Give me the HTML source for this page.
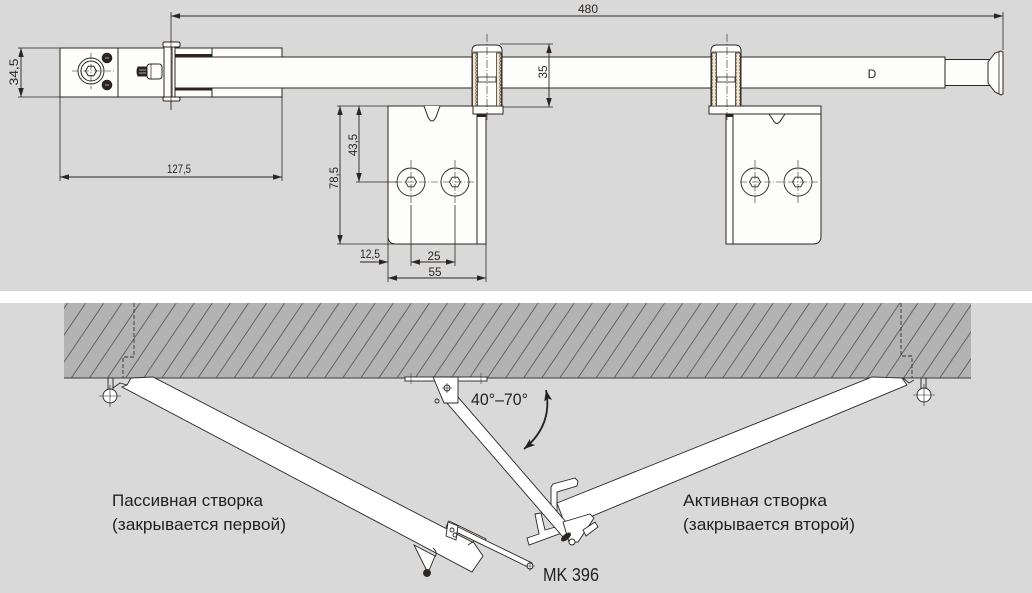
<!DOCTYPE html>
<html><head><meta charset="utf-8"><style>
html,body{margin:0;padding:0;background:#d9d9d9;}
svg{display:block;}
</style></head><body>
<svg width="1032" height="593" viewBox="0 0 1032 593" xmlns="http://www.w3.org/2000/svg">
<defs>
<marker id="ar" markerUnits="userSpaceOnUse" markerWidth="10" markerHeight="6" refX="9" refY="2.75" orient="auto-start-reverse"><path d="M0,0 L9,2.75 L0,5.5 z" fill="#2b2521"/></marker>
<marker id="ab" markerUnits="userSpaceOnUse" markerWidth="12" markerHeight="9" refX="11" refY="4" orient="auto-start-reverse"><path d="M0,0 L11,4 L0,8 L2.5,4 z" fill="#222"/></marker>
<pattern id="hatch" width="15" height="20" patternUnits="userSpaceOnUse" patternTransform="rotate(34)"><line x1="0.5" y1="0" x2="0.5" y2="20" stroke="#505050" stroke-width="0.8"/></pattern>
<pattern id="dots" width="6" height="3.4" patternUnits="userSpaceOnUse"><rect width="6" height="3.4" fill="#efe6d2"/><circle cx="3" cy="1.7" r="1.3" fill="none" stroke="#5a4630" stroke-width="0.7"/></pattern>
</defs>
<rect width="1032" height="593" fill="#d9d9d9"/>
<rect y="291" width="1032" height="12" fill="#ffffff"/>

<!-- ================= TOP DRAWING ================= -->
<g stroke="#2b2521" stroke-width="1" fill="none">
  <!-- dimension 480 -->
  <line x1="171" y1="16" x2="1003" y2="16" stroke-width="0.9" marker-start="url(#ar)" marker-end="url(#ar)"/>
  <line x1="171" y1="12" x2="171" y2="110" stroke-width="0.8"/>
  <line x1="1003" y1="12" x2="1003" y2="50" stroke-width="0.8"/>

  <!-- main bar -->
  <rect x="172" y="48" width="110" height="49" fill="#fdfdfb"/>
  <rect x="172" y="57" width="773" height="31" fill="#fdfdfb"/>
  <line x1="212" y1="48" x2="212" y2="57"/>
  <line x1="212" y1="88" x2="212" y2="97"/>
  <rect x="172" y="54" width="40" height="3" fill="#2b2521" stroke="none"/>
  <rect x="172" y="88" width="40" height="2.5" fill="#2b2521" stroke="none"/>
  <rect x="945" y="59.5" width="45" height="26" fill="#fdfdfb"/>
  <path d="M988,62 L995,53 L1001,51 L1003,52 L1003,94 L1001,95 L995,92 L988,83 Z" fill="#fdfdfb"/>
  <line x1="999" y1="52" x2="999" y2="94" stroke-width="0.8"/>

  <!-- left block -->
  <rect x="60" y="48" width="110" height="49" fill="#fdfdfb"/>
  <line x1="118" y1="48" x2="118" y2="97"/>
  <circle cx="91" cy="71" r="13" fill="#fdfdfb"/>
  <circle cx="91" cy="71" r="10"/>
  <polygon points="96.5,71 93.75,75.8 88.25,75.8 85.5,71 88.25,66.2 93.75,66.2"/>
  <line x1="72" y1="71" x2="116" y2="71" stroke-width="0.6" stroke-dasharray="6,2,1,2"/>
  <line x1="91" y1="53" x2="91" y2="89" stroke-width="0.6" stroke-dasharray="6,2,1,2"/>
  <circle cx="107" cy="58" r="4.8" fill="#2b2521"/>
  <circle cx="107" cy="85" r="4.8" fill="#2b2521"/>
  <line x1="105" y1="58" x2="109" y2="58" stroke="#fff" stroke-width="0.6"/>
  <line x1="105" y1="85" x2="109" y2="85" stroke="#fff" stroke-width="0.6"/>
  <!-- bolt in second box -->
  <rect x="147" y="64" width="15" height="15" rx="3" fill="#fdfdfb"/>
  <line x1="151" y1="64" x2="151" y2="79" stroke-width="0.7"/>
  <path d="M138,67 L147,67 L147,76 L138,76 Q136,71.5 138,67 Z" fill="#2b2521"/>
  <line x1="139" y1="70" x2="146" y2="70" stroke="#fff" stroke-width="0.6"/>
  <line x1="139" y1="73" x2="146" y2="73" stroke="#fff" stroke-width="0.6"/>

  <!-- left bracket plate and nuts -->
  <rect x="164" y="47" width="8" height="50" fill="#fdfdfb"/>
  <rect x="172" y="47" width="3" height="50" fill="#fdfdfb"/>
  <rect x="163" y="42" width="17" height="5" rx="1.5" fill="#fdfdfb"/>
  <rect x="163" y="97" width="17" height="4" rx="1.5" fill="#fdfdfb"/>
  <line x1="171" y1="40" x2="171" y2="110" stroke-width="0.6"/>

  <!-- text D -->
  <text x="872" y="78" font-family="Liberation Sans, sans-serif" font-size="12" fill="#2b2521" stroke="none" text-anchor="middle">D</text>

  <!-- dimension 35 -->
  <line x1="500" y1="44" x2="553" y2="44" stroke-width="0.8"/>
  <line x1="503" y1="107" x2="553" y2="107" stroke-width="0.8"/>
  <line x1="549" y1="44" x2="549" y2="107" stroke-width="0.9" marker-start="url(#ar)" marker-end="url(#ar)"/>

  <!-- bracket 1 -->
  <path d="M388,106 L486,106 L486,244 L396,244 Q388,244 388,236 Z" fill="#fdfdfb"/>
  <line x1="477" y1="114" x2="477" y2="244"/>
  <path d="M424,106 L428,117 Q432,125 436,117 L440,106" fill="#fdfdfb"/>
  <rect x="473" y="106" width="30" height="8" fill="#fdfdfb"/>
  <rect x="477" y="114" width="9" height="3" fill="#2b2521" stroke="none"/>

  <!-- bracket 2 -->
  <path d="M726,114 L821,114 L821,236 Q821,244 813,244 L726,244 Z" fill="#fdfdfb"/>
  <line x1="733" y1="114" x2="733" y2="244"/>
  <rect x="726" y="114" width="7" height="3" fill="#2b2521" stroke="none"/>
  <path d="M769,114 L773,120 Q777,127 781,120 L785,114" fill="#fdfdfb"/>
  <rect x="709" y="106" width="112" height="8" fill="#fdfdfb"/>

  <!-- pins -->
  <g>
    <path d="M472,106 L472,51 Q472,45 478,45 L496,45 Q502,45 502,51 L502,106 Z" fill="#fdfdfb"/>
    <line x1="473" y1="52" x2="501" y2="52" stroke-width="0.8"/>
    <rect x="472.5" y="53" width="5" height="53" fill="url(#dots)" stroke-width="0.7"/>
    <rect x="496.5" y="53" width="5" height="53" fill="url(#dots)" stroke-width="0.7"/>
    <rect x="478" y="77" width="18" height="5" fill="#fdfdfb" stroke-width="0.8"/>
    <line x1="487" y1="34" x2="487" y2="120" stroke-width="0.6" stroke-dasharray="8,2,1,2"/>
  </g>
  <g>
    <path d="M711,106 L711,51 Q711,45 717,45 L735,45 Q741,45 741,51 L741,106 Z" fill="#fdfdfb"/>
    <line x1="712" y1="52" x2="740" y2="52" stroke-width="0.8"/>
    <rect x="711.5" y="53" width="5" height="53" fill="url(#dots)" stroke-width="0.7"/>
    <rect x="735.5" y="53" width="5" height="53" fill="url(#dots)" stroke-width="0.7"/>
    <rect x="717" y="77" width="18" height="5" fill="#fdfdfb" stroke-width="0.8"/>
    <line x1="727" y1="34" x2="727" y2="120" stroke-width="0.6" stroke-dasharray="8,2,1,2"/>
  </g>

  <!-- screws -->
  <g stroke-width="0.9">
    <circle cx="411" cy="182" r="14" fill="#fdfdfb"/>
    <polygon points="416.5,182 413.75,186.8 408.25,186.8 405.5,182 408.25,177.2 413.75,177.2"/>
    <circle cx="455" cy="182" r="14" fill="#fdfdfb"/>
    <polygon points="460.5,182 457.75,186.8 452.25,186.8 449.5,182 452.25,177.2 457.75,177.2"/>
    <circle cx="755" cy="182" r="14" fill="#fdfdfb"/>
    <polygon points="760.5,182 757.75,186.8 752.25,186.8 749.5,182 752.25,177.2 757.75,177.2"/>
    <circle cx="798" cy="182" r="14" fill="#fdfdfb"/>
    <polygon points="803.5,182 800.75,186.8 795.25,186.8 792.5,182 795.25,177.2 800.75,177.2"/>
  </g>
  <g stroke-width="0.6" stroke-dasharray="7,2,1,2">
    <line x1="395" y1="182" x2="475" y2="182"/>
    <line x1="740" y1="182" x2="818" y2="182"/>
    <line x1="411" y1="160" x2="411" y2="205"/>
    <line x1="455" y1="160" x2="455" y2="205"/>
    <line x1="755" y1="160" x2="755" y2="205"/>
    <line x1="798" y1="160" x2="798" y2="205"/>
  </g>

  <!-- dimension 34,5 -->
  <line x1="18" y1="48" x2="60" y2="48" stroke-width="0.8"/>
  <line x1="18" y1="97" x2="60" y2="97" stroke-width="0.8"/>
  <line x1="21" y1="48" x2="21" y2="97" stroke-width="0.9" marker-start="url(#ar)" marker-end="url(#ar)"/>

  <!-- dimension 127,5 -->
  <line x1="60" y1="97" x2="60" y2="181" stroke-width="0.8"/>
  <line x1="282" y1="97" x2="282" y2="181" stroke-width="0.8"/>
  <line x1="60" y1="177" x2="282" y2="177" stroke-width="0.9" marker-start="url(#ar)" marker-end="url(#ar)"/>

  <!-- bracket dims -->
  <line x1="337" y1="106" x2="388" y2="106" stroke-width="0.8"/>
  <line x1="337" y1="244" x2="396" y2="244" stroke-width="0.8"/>
  <line x1="356" y1="182" x2="397" y2="182" stroke-width="0.8"/>
  <line x1="340" y1="106" x2="340" y2="244" stroke-width="0.9" marker-start="url(#ar)" marker-end="url(#ar)"/>
  <line x1="359" y1="106" x2="359" y2="182" stroke-width="0.9" marker-start="url(#ar)" marker-end="url(#ar)"/>
  <line x1="388" y1="236" x2="388" y2="282" stroke-width="0.8"/>
  <line x1="486" y1="244" x2="486" y2="282" stroke-width="0.8"/>
  <line x1="411" y1="205" x2="411" y2="266" stroke-width="0.8"/>
  <line x1="455" y1="205" x2="455" y2="266" stroke-width="0.8"/>
  <line x1="360" y1="262" x2="388" y2="262" stroke-width="0.9" marker-end="url(#ar)"/>
  <line x1="411" y1="262" x2="455" y2="262" stroke-width="0.9" marker-start="url(#ar)" marker-end="url(#ar)"/>
  <line x1="388" y1="278" x2="486" y2="278" stroke-width="0.9" marker-start="url(#ar)" marker-end="url(#ar)"/>
</g>

<g font-family="Liberation Sans, sans-serif" font-size="11.5" fill="#2b2521" text-anchor="middle">
  <text x="588" y="13" textLength="20" lengthAdjust="spacingAndGlyphs">480</text>
  <text x="179" y="173" textLength="24" lengthAdjust="spacingAndGlyphs">127,5</text>
  <text x="370" y="258" textLength="20" lengthAdjust="spacingAndGlyphs">12,5</text>
  <text x="434" y="260" textLength="13" lengthAdjust="spacingAndGlyphs">25</text>
  <text x="435" y="276" textLength="13" lengthAdjust="spacingAndGlyphs">55</text>
  <text transform="translate(18,72) rotate(-90)" x="0" y="0" textLength="27" lengthAdjust="spacingAndGlyphs">34,5</text>
  <text transform="translate(357,145) rotate(-90)" x="0" y="0" textLength="22" lengthAdjust="spacingAndGlyphs">43,5</text>
  <text transform="translate(338,178) rotate(-90)" x="0" y="0" textLength="22" lengthAdjust="spacingAndGlyphs">78,5</text>
  <text transform="translate(547,72) rotate(-90)" x="0" y="0" textLength="13" lengthAdjust="spacingAndGlyphs">35</text>
</g>

<!-- ================= BOTTOM DRAWING ================= -->
<rect x="64" y="303" width="907" height="75" fill="#b3b3b3"/>
<rect x="64" y="303" width="907" height="75" fill="url(#hatch)"/>
<line x1="64" y1="378" x2="971" y2="378" stroke="#3a3a3a" stroke-width="1"/>
<g stroke="#333" stroke-width="0.9" fill="none" stroke-dasharray="4,2">
  <polyline points="134,303 134,357 123,357 123,378"/>
  <polyline points="901,303 901,356 912,356 912,378"/>
</g>

<g stroke="#2a2622" stroke-width="0.9" fill="#ffffff">
  <!-- left hinge -->
  <line x1="108" y1="378" x2="108" y2="389"/>
  <line x1="113" y1="378" x2="113" y2="389"/>
  <circle cx="110" cy="396" r="7"/>
  <line x1="99" y1="396" x2="121" y2="396" stroke-width="0.6"/>
  <line x1="110" y1="385" x2="110" y2="407" stroke-width="0.6"/>
  <polyline points="113,388 120,383 127,385" fill="none"/>

  <!-- passive leaf -->
  <polygon points="122,387 127,385 131,378 153,377 474,543 483,556 472,572"/>
  <!-- passive closer -->
  <polygon points="414,545 435,556 428,573"/>
  <circle cx="427" cy="573" r="3.5" fill="#2a2622"/>
  <path d="M433,548 Q438,552 435,557" fill="none"/>
  <polygon points="449,521 486,539 483,545 446,527"/>
  <polygon points="452,524 532,563 530,568 450,529"/>
  <polygon points="448,522 458,526 456,540 446,536"/>
  <circle cx="452" cy="530" r="2" fill="none"/>
  <circle cx="455" cy="535" r="2" fill="none"/>
  <line x1="468" y1="545" x2="474" y2="541"/>
  <circle cx="530" cy="566" r="3"/>
  <line x1="525" y1="566" x2="535" y2="566" stroke-width="0.5"/>
  <line x1="530" y1="561" x2="530" y2="571" stroke-width="0.5"/>

  <!-- active leaf -->
  <polygon points="557,503 872,377 902,378 907,385 566,527"/>
  <polyline points="903,378 909,383 914,380" fill="none"/>
  <line x1="921" y1="378" x2="921" y2="389"/>
  <line x1="926" y1="378" x2="926" y2="389"/>
  <circle cx="924" cy="395" r="7"/>
  <line x1="913" y1="395" x2="935" y2="395" stroke-width="0.6"/>
  <line x1="924" y1="384" x2="924" y2="406" stroke-width="0.6"/>

  <!-- handle -->
  <polygon points="551,514 551,487 553,484 575,478 578,481 577,486 557,492 557,512"/>
  <!-- lower plate (active end) -->
  <polygon points="535,514 541,513 545,530 563,525 567,531 529,545 527,538 539,534"/>

  <!-- arm bracket at wall -->
  <rect x="405" y="377" width="82" height="4"/>
  <line x1="411" y1="373" x2="411" y2="384" stroke-width="0.5"/>
  <line x1="481" y1="373" x2="481" y2="384" stroke-width="0.5"/>
  <!-- arm -->
  <polygon points="446,402 457,396 573,530 563,537"/>
  <polygon points="433,377 458,377 458,403 444,403"/>
  <circle cx="447" cy="388" r="3" fill="none"/>
  <line x1="442" y1="388" x2="452" y2="388" stroke-width="0.6"/>
  <line x1="447" y1="383" x2="447" y2="393" stroke-width="0.6"/>
  <circle cx="437" cy="401" r="2" fill="none"/>

  <!-- right bracket at active end -->
  <polygon points="563,522 590,514 594,518 578,542 569,542"/>
  <polygon points="583,530 595,522 598,527 586,536"/>
  <ellipse cx="566" cy="537" rx="5.5" ry="2.5" transform="rotate(-40 566 537)" fill="#2a2622"/>
  <circle cx="572" cy="542" r="3"/>
</g>

<!-- angle arrow -->
<path d="M546,390 Q553,425 524,449" fill="none" stroke="#222" stroke-width="1.8" marker-start="url(#ab)" marker-end="url(#ab)"/>

<g font-family="'Liberation Sans Narrow', 'Liberation Sans', sans-serif" fill="#231f20">
  <text x="471" y="405" font-size="17" textLength="57" lengthAdjust="spacingAndGlyphs">40°–70°</text>
  <text x="112" y="506" font-size="16.5" textLength="151" lengthAdjust="spacingAndGlyphs">Пассивная створка</text>
  <text x="112" y="530" font-size="16.5" textLength="174" lengthAdjust="spacingAndGlyphs">(закрывается первой)</text>
  <text x="683" y="506" font-size="16.5" textLength="144" lengthAdjust="spacingAndGlyphs">Активная створка</text>
  <text x="683" y="530" font-size="16.5" textLength="172" lengthAdjust="spacingAndGlyphs">(закрывается второй)</text>
  <text x="543" y="581" font-size="18" textLength="56" lengthAdjust="spacingAndGlyphs">MK 396</text>
</g>
</svg>
</body></html>
